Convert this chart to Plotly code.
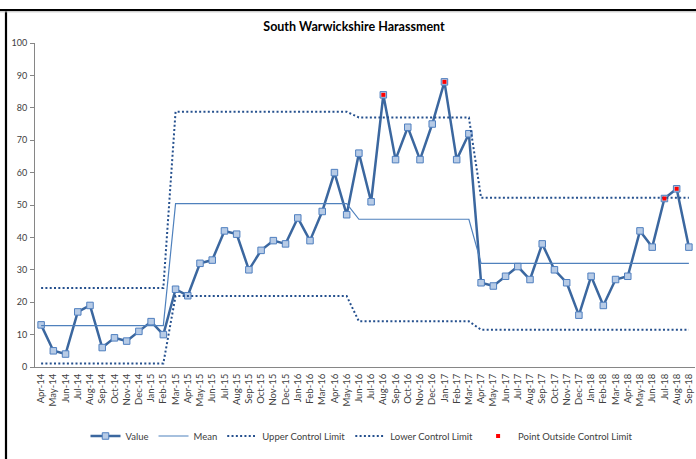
import plotly.graph_objects as go

# Monthly harassment counts, April 2014 to September 2018
months = [
    "Apr-14", "May-14", "Jun-14", "Jul-14", "Aug-14", "Sep-14", "Oct-14", "Nov-14", "Dec-14",
    "Jan-15", "Feb-15", "Mar-15", "Apr-15", "May-15", "Jun-15", "Jul-15", "Aug-15", "Sep-15",
    "Oct-15", "Nov-15", "Dec-15", "Jan-16", "Feb-16", "Mar-16", "Apr-16", "May-16", "Jun-16",
    "Jul-16", "Aug-16", "Sep-16", "Oct-16", "Nov-16", "Dec-16", "Jan-17", "Feb-17", "Mar-17",
    "Apr-17", "May-17", "Jun-17", "Jul-17", "Aug-17", "Sep-17", "Oct-17", "Nov-17", "Dec-17",
    "Jan-18", "Feb-18", "Mar-18", "Apr-18", "May-18", "Jun-18", "Jul-18", "Aug-18", "Sep-18",
]
values = [
    13, 5, 4, 17, 19, 6, 9, 8, 11,
    14, 10, 24, 22, 32, 33, 42, 41, 30, 36, 39, 38,
    46, 39, 48, 60, 47, 66, 51, 84, 64, 74, 64, 75,
    88, 64, 72, 26, 25, 28, 31, 27, 38, 30, 26, 16,
    28, 19, 27, 28, 42, 37, 52, 55, 37,
]

# Control-chart phases: number of months in each phase and its limits
phase_lengths = [11, 15, 10, 18]
phase_means = [12.8, 50.4, 45.6, 32.0]
phase_upper = [24.4, 78.8, 77.0, 52.2]
phase_lower = [1.1, 21.9, 14.1, 11.5]

# Months flagged as outside the control limits
flagged_months = ["Aug-16", "Jan-17", "Jul-18", "Aug-18"]


def expand(levels, lengths):
    out = []
    for level, n in zip(levels, lengths):
        out.extend([level] * n)
    return out


mean_line = expand(phase_means, phase_lengths)
upper_line = expand(phase_upper, phase_lengths)
lower_line = expand(phase_lower, phase_lengths)
flagged = [v if m in flagged_months else None for m, v in zip(months, values)]

FONT = "Lato, Open Sans, sans-serif"
TEXT = "#404040"
DOT = "2px,2.3px"

fig = go.Figure()
fig.add_trace(go.Scatter(
    x=months, y=values, name="Value", mode="lines+markers",
    line=dict(color="#3B679F", width=2.5),
    marker=dict(symbol="square", size=6.5, color="#B7CBE6",
                line=dict(color="#4F7FBF", width=1)),
))
fig.add_trace(go.Scatter(
    x=months, y=mean_line, name="Mean", mode="lines",
    line=dict(color="#4F81BD", width=1.2),
))
fig.add_trace(go.Scatter(
    x=months, y=upper_line, name="Upper Control Limit", mode="lines",
    line=dict(color="#25508E", width=2, dash=DOT),
))
fig.add_trace(go.Scatter(
    x=months, y=lower_line, name="Lower Control Limit", mode="lines",
    line=dict(color="#25508E", width=2, dash=DOT),
))
fig.add_trace(go.Scatter(
    x=months, y=flagged, name="Point Outside Control Limit", mode="markers",
    marker=dict(symbol="square", size=4, color="#FF0000"),
))

W, H = 696, 459
L, R, T, B = 35, 1, 43, 92
pw, ph = W - L - R, H - T - B


def px_x(px):
    return (px - L) / pw


def px_y(py):
    return (H - B - py) / ph


# Frame lines along the top and left edges
border = dict(type="line", xref="paper", yref="paper", line=dict(color="#000000", width=2.2))
fig.add_shape(**border, x0=px_x(0), x1=px_x(W), y0=px_y(10), y1=px_y(10))
fig.add_shape(**border, x0=px_x(6), x1=px_x(6), y0=px_y(10), y1=px_y(H))
fig.add_shape(type="line", xref="paper", yref="paper", x0=px_x(0), x1=px_x(W),
              y0=px_y(11.8), y1=px_y(11.8), line=dict(color="#BBBBBB", width=1))

fig.update_layout(
    width=W, height=H,
    margin=dict(l=L, r=R, t=T, b=B),
    paper_bgcolor="white", plot_bgcolor="white",
    font=dict(family=FONT, size=9, color=TEXT),
    showlegend=True,
    title=dict(text="<b>South Warwickshire Harassment</b>", x=354 / W, xref="container",
               xanchor="center", y=1 - 27 / H, yref="container", yanchor="middle",
               font=dict(family=FONT, size=12.5, color="#000000")),
    legend=dict(orientation="h", x=px_x(362), xanchor="center", y=px_y(436), yanchor="middle",
                font=dict(family=FONT, size=9.5, color=TEXT), bgcolor="rgba(0,0,0,0)",
                itemwidth=30),
    xaxis=dict(type="category", range=[-0.5, len(months) - 0.5], tickangle=-90,
               showline=True, linecolor="#868686", linewidth=1, showgrid=False,
               ticks="", ticklabelstandoff=2, tickfont=dict(size=9.5, color=TEXT),
               zeroline=False),
    yaxis=dict(range=[0, 100], dtick=10, showline=True, linecolor="#868686", linewidth=1,
               showgrid=False, ticks="outside", ticklen=4, tickcolor="#868686",
               ticklabelstandoff=1, tickfont=dict(size=9, color=TEXT), zeroline=False),
)

fig.write_html("out.html")
